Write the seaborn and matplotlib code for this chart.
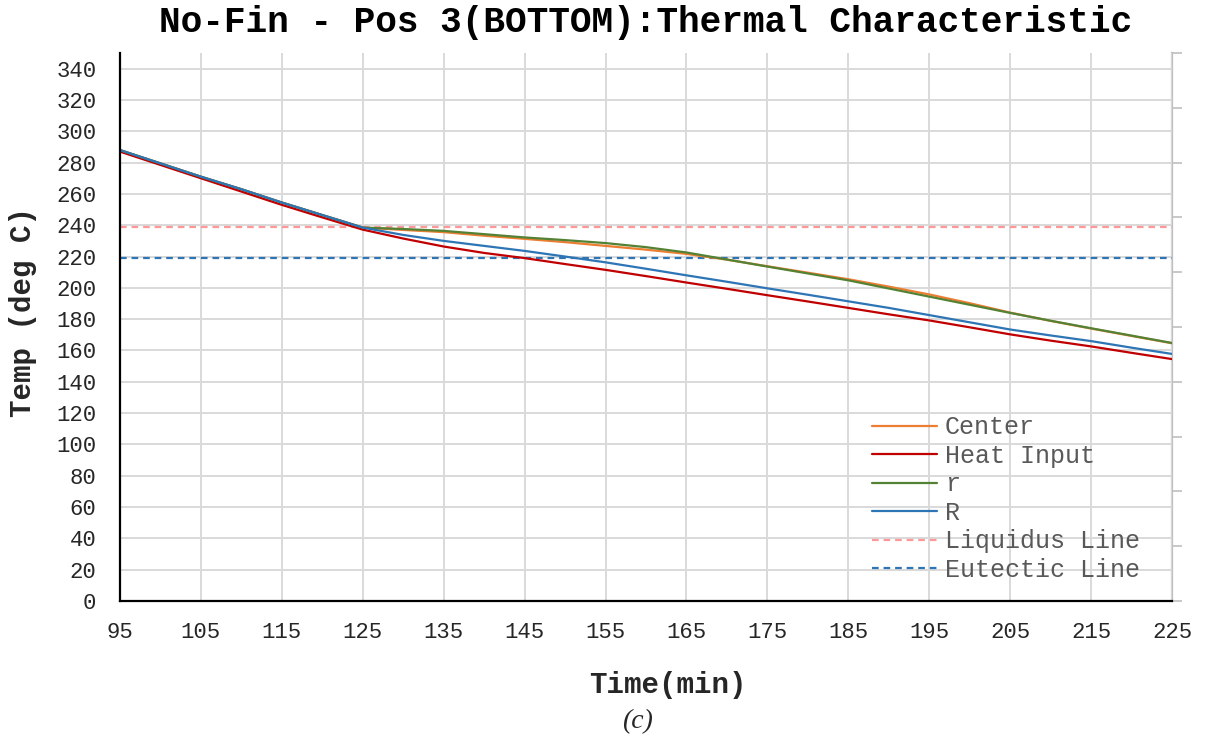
import numpy as np
import pandas as pd
import matplotlib
matplotlib.use("Agg")
import matplotlib.pyplot as plt
import seaborn as sns

# ---- data ----
time_min = [95, 100, 105, 110, 115, 120, 125, 130, 135, 140, 145, 150, 155, 160,
            165, 170, 175, 180, 185, 190, 195, 200, 205, 210, 215, 220, 225]
center = [288, 279.5, 271, 263, 254.5, 246.5, 238.5, 237.0, 235.6, 233.3, 231.3, 229.2,
          226.8, 224.4, 221.7, 218.0, 213.8, 209.7, 205.5, 200.8, 195.8, 190.2, 184.2,
          178.9, 174.0, 169.3, 164.6]
heat_input = [287, 278.5, 270, 261.5, 253, 245, 237.2, 231.5, 226.4, 222.3, 219.0, 215.2,
              211.5, 207.5, 203.4, 199.4, 195.3, 191.3, 187.2, 183.1, 179.2, 174.8, 170.3,
              166.3, 162.6, 158.5, 154.5]
r_small = [288, 279.5, 271, 263, 254.5, 246.5, 238.5, 237.6, 236.4, 234.3, 232.2, 230.5,
           228.6, 226.0, 222.6, 218.1, 213.6, 209.2, 204.8, 199.6, 194.4, 189.2, 184.0,
           179.0, 174.2, 169.5, 164.8]
r_big = [288, 279.5, 271, 263, 254.5, 246.5, 238.5, 233.8, 230.0, 226.8, 223.6, 220.0,
         216.3, 212.2, 208.0, 203.9, 199.7, 195.6, 191.4, 187.2, 182.6, 178.0, 173.4,
         169.6, 166.0, 161.8, 157.8]
liquidus_temp = 239
eutectic_temp = 219

series_names = ["Center", "Heat Input", "r", "R"]
series_values = [center, heat_input, r_small, r_big]
series_colors = ["#ED7D31", "#C00000", "#548235", "#2E75B6"]

x_ticks = list(range(95, 226, 10))
y_ticks = list(range(0, 341, 20))

title = "No-Fin - Pos 3(BOTTOM):Thermal Characteristic"
x_label = "Time(min)"
y_label = "Temp (deg C)"
caption = "(c)"

# ---- style ----
sns.set_theme(style="white")
plt.rcParams["font.family"] = ["Liberation Mono", "DejaVu Sans"]

fig = plt.figure(figsize=(12.05, 7.4), dpi=100)
ax = fig.add_axes([120 / 1205, 1 - 601 / 740, (1172 - 120) / 1205, (601 - 53) / 740])

for name, vals, col in zip(series_names, series_values, series_colors):
    sns.lineplot(x=time_min, y=vals, color=col, label=name, linewidth=1.6, ax=ax)

ax.axhline(liquidus_temp, color="#FF9999", linestyle=(0, (3, 2.2)), linewidth=1.6,
           label="Liquidus Line", zorder=1.5)
ax.axhline(eutectic_temp, color="#2E75B6", linestyle=(0, (3, 2.2)), linewidth=1.6,
           label="Eutectic Line", zorder=1.5)

ax.set_xlim(95, 225)
ax.set_ylim(0, 350)
ax.set_xticks(x_ticks)
ax.set_yticks(y_ticks)
ax.grid(True, color="#D9D9D9", linewidth=1.4)
ax.set_axisbelow(True)
ax.tick_params(axis="both", length=0, labelsize=16, colors="#262626")
ax.tick_params(axis="y", pad=17)
ax.tick_params(axis="x", pad=15)
ax.spines["top"].set_visible(False)
ax.spines["right"].set_visible(False)
ax.spines["left"].set_color("black")
ax.spines["left"].set_linewidth(1.6)
ax.spines["bottom"].set_color("black")
ax.spines["bottom"].set_linewidth(1.6)

ax.set_xlabel(x_label, fontsize=21, fontweight="bold")
ax.set_ylabel(y_label, fontsize=21, fontweight="bold")
ax.xaxis.set_label_coords(0.521, -0.128)
ax.yaxis.set_label_coords(-0.079, 0.527)

# secondary (unlabelled) right axis
ax2 = ax.twinx()
ax2.set_ylim(0, 1)
ax2.set_yticks(np.linspace(0, 1, 11))
ax2.set_yticklabels([])
ax2.tick_params(axis="y", length=7, width=1.2, color="#BFBFBF", direction="out")
for s in ["top", "left", "bottom"]:
    ax2.spines[s].set_visible(False)
ax2.spines["right"].set_color("#BFBFBF")
ax2.spines["right"].set_linewidth(1.6)
ax2.grid(False)

leg = ax.legend(loc="lower left", bbox_to_anchor=(0.7055, 0.0165), frameon=False,
                fontsize=18, handlelength=2.6, handletextpad=0.3, labelspacing=0.18,
                borderaxespad=0)
for t in leg.get_texts():
    t.set_color("#595959")
ax2.set_zorder(ax.get_zorder() - 1)
ax.patch.set_visible(False)

fig.text(0.536, 1 - 23 / 740, title, ha="center", va="center", fontsize=26,
         fontweight="bold", color="black")
fig.text(0.529, 1 - 722 / 740, caption, ha="center", va="center", fontsize=20,
         fontstyle="italic", family="Liberation Serif")

fig.savefig("out.png", dpi=100)
